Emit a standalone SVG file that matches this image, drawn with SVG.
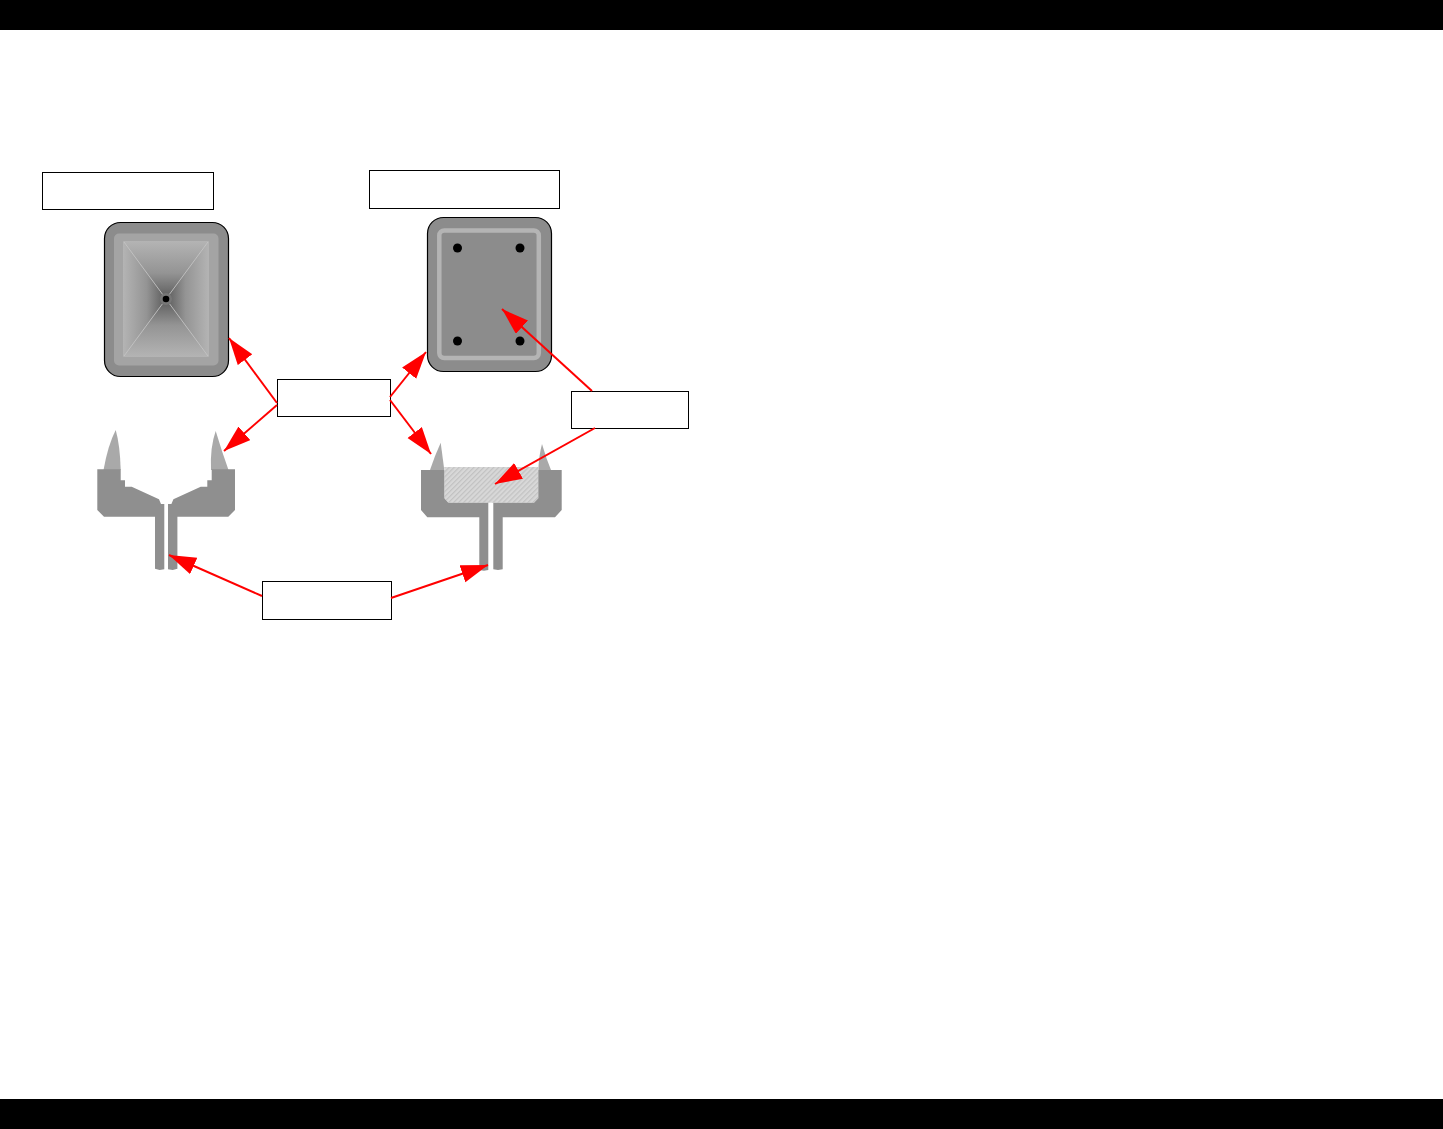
<svg xmlns="http://www.w3.org/2000/svg" width="1443" height="1129" viewBox="0 0 1443 1129">
<style>
.box{fill:#fff;stroke:#000;stroke-width:1}
.body{fill:#8f8f8f}
.spike{fill:#a9a9a9}
.plate{fill:#8c8c8c;stroke:#000;stroke-width:1.2}
.dot{fill:#000}
.arrow{stroke:#f00;stroke-width:2;fill:none;marker-end:url(#head)}
.seam{stroke:#c8c8c8;stroke-width:.8;fill:none}
</style>
<defs>
<marker id="head" markerUnits="userSpaceOnUse" markerWidth="30" markerHeight="20" refX="27" refY="9" orient="auto"><path d="M0,0L27,9L0,18Z" fill="#f00"/></marker>
<linearGradient id="gt" gradientUnits="userSpaceOnUse" x1="0" y1="241" x2="0" y2="299"><stop offset="0" stop-color="#b4b4b4"/><stop offset=".55" stop-color="#949494"/><stop offset="1" stop-color="#5a5a5a"/></linearGradient>
<linearGradient id="gb" gradientUnits="userSpaceOnUse" x1="0" y1="357" x2="0" y2="299"><stop offset="0" stop-color="#b4b4b4"/><stop offset=".55" stop-color="#949494"/><stop offset="1" stop-color="#5a5a5a"/></linearGradient>
<linearGradient id="gl" gradientUnits="userSpaceOnUse" x1="123" y1="0" x2="166" y2="0"><stop offset="0" stop-color="#b4b4b4"/><stop offset=".55" stop-color="#949494"/><stop offset="1" stop-color="#5a5a5a"/></linearGradient>
<linearGradient id="gr" gradientUnits="userSpaceOnUse" x1="209" y1="0" x2="166" y2="0"><stop offset="0" stop-color="#b4b4b4"/><stop offset=".55" stop-color="#949494"/><stop offset="1" stop-color="#5a5a5a"/></linearGradient>
<pattern id="hatch" patternUnits="userSpaceOnUse" width="3.5" height="3.5" patternTransform="rotate(45)"><rect width="3.5" height="3.5" fill="#d8d8d8"/><rect width="1.2" height="3.5" fill="#c2c2c2"/></pattern>
</defs>
<rect id="bar-top" x="0" y="0" width="1443" height="30" fill="#000"/>
<rect id="bar-bottom" x="0" y="1099" width="1443" height="30" fill="#000"/>

<g id="label-top-left"><rect class="box" x="42.5" y="172.5" width="171" height="37"/></g>
<g id="label-top-right"><rect class="box" x="369.5" y="170.5" width="190" height="38"/></g>
<g id="label-center"><rect class="box" x="277.5" y="379.5" width="113" height="37"/></g>
<g id="label-right"><rect class="box" x="571.5" y="391.5" width="117" height="37"/></g>
<g id="label-bottom"><rect class="box" x="262.5" y="581.5" width="129" height="38"/></g>

<g id="plate-left">
<rect class="plate" x="104.5" y="222.5" width="124" height="154" rx="16"/>
<rect x="114" y="233.500" width="104.500" height="132" rx="5" fill="#a4a4a4"/>
<path d="M123,241H209L166,299Z" fill="url(#gt)"/>
<path d="M123,357H209L166,299Z" fill="url(#gb)"/>
<path d="M123,241V357L166,299Z" fill="url(#gl)"/>
<path d="M209,241V357L166,299Z" fill="url(#gr)"/>
<path class="seam" d="M124,242L208,356M208,242L124,356"/>
<circle cx="166" cy="299" r="6" fill="#777"/>
<circle class="dot" cx="166" cy="299" r="3.3"/>
</g>

<g id="plate-right">
<rect class="plate" x="427.5" y="217.5" width="124" height="154" rx="16"/>
<rect x="439.300" y="230.500" width="99.500" height="127.500" rx="5" fill="none" stroke="#b4b4b4" stroke-width="4.5"/>
<circle class="dot" cx="457.5" cy="248" r="4.5"/>
<circle class="dot" cx="520" cy="248" r="4.5"/>
<circle class="dot" cx="457.5" cy="341" r="4.5"/>
<circle class="dot" cx="520" cy="341" r="4.5"/>
</g>

<g id="section-left">
<path class="spike" d="M103.500,470Q108,445 115.700,430Q120,445 120.700,470Z"/>
<path class="spike" d="M211,470Q210,447 215.700,431Q222,452 228.500,470Z"/>
<path class="body" d="M97.300,469.300H120.700V480.300H125V486.700H131.700L159,499.300L161,504H164.300V569.300L159.700,570L155,568.700V516.700H104L97.300,510Z"/>
<path class="body" d="M235,469.300H211.700V480.300H207.300V486.700H200.700L173.400,499.300L171.400,504H168V569.300L172.700,570L177.400,568.700V516.700H228.300L235,510Z"/>
</g>

<g id="section-right">
<path class="spike" d="M430,470Q435,455 440.700,442.700L444.300,470Z"/>
<path class="spike" d="M538.300,470Q539,455 542,444Q546,458 551,470Z"/>
<path d="M444.300,467H538.300V498.300L534,502.700H448.300L444.300,498.300Z" fill="url(#hatch)"/>
<path class="body" d="M421,470H444.300V498.300L448.300,502.700H488.300V570L484,570.700L479.300,570V517.300H427.300L421,510Z"/>
<path class="body" d="M561.700,470H538.300V498.300L534,502.700H493.300V569.300L498,570L502.700,569.300V517.300H555L561.700,510Z"/>
</g>

<g id="connectors">
<path class="arrow" d="M277,403L229,338"/>
<path class="arrow" d="M277,405L224,451"/>
<path class="arrow" d="M390,397L426,352"/>
<path class="arrow" d="M390,400L431,454"/>
<path class="arrow" d="M592,391L502,309"/>
<path class="arrow" d="M595,428L495,484"/>
<path class="arrow" d="M262,596L169,555"/>
<path class="arrow" d="M391,598L488,565"/>
</g>
</svg>
